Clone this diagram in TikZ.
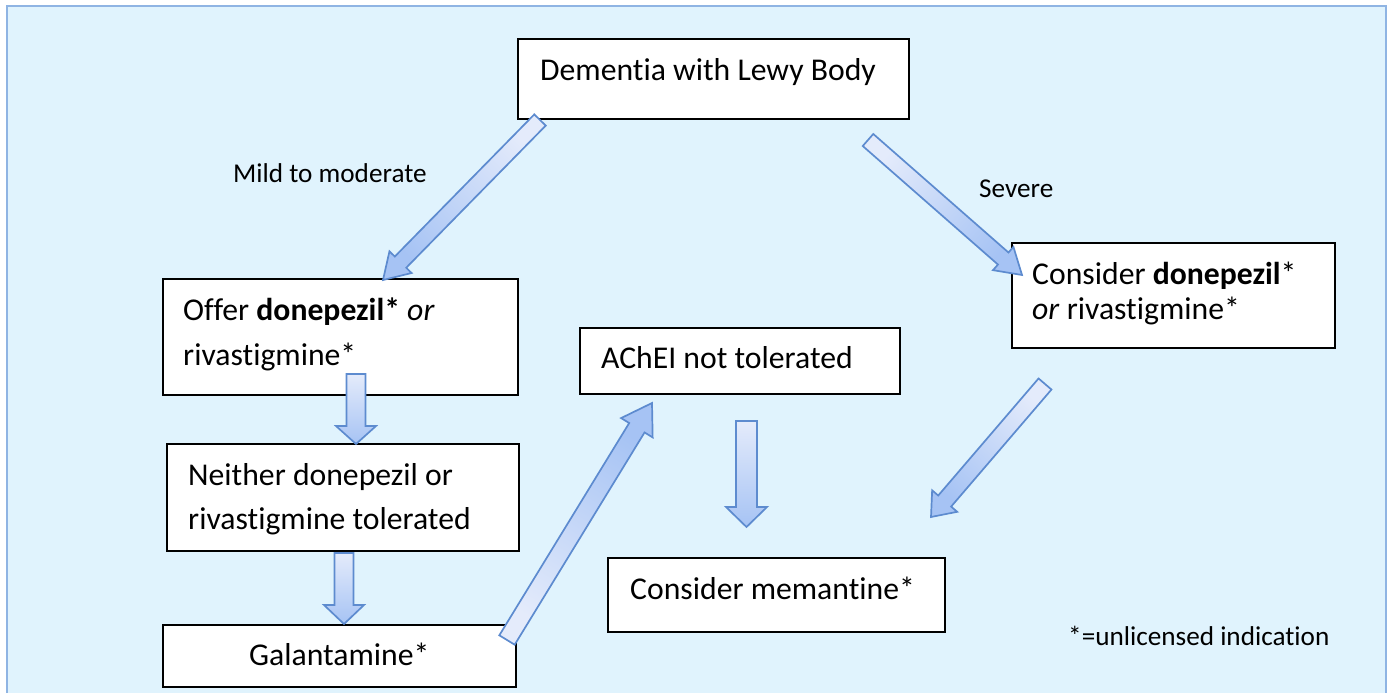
\documentclass[tikz,border=0pt]{standalone}
\usepackage{fontspec}
\setmainfont{Carlito}[Ligatures=NoCommon]
\usetikzlibrary{calc}
\definecolor{bg}{HTML}{E0F3FD}
\definecolor{frame}{HTML}{8FB4E3}
\definecolor{arrowtop}{HTML}{E4EBFB}
\definecolor{arrowbot}{HTML}{A6C3F4}
\definecolor{arrowedge}{HTML}{5D8BCF}
\newcommand\blockarrow[6]{%
  \coordinate (ba-h) at ($(#2)!#5!(#1)$);
  \fill[black,opacity=0.10,xshift=2pt,yshift=-2pt]
    ($(#1)!#3!90:(#2)$) -- ($(ba-h)!#3!90:(#2)$) -- ($(ba-h)!#4!90:(#2)$) -- (#2) --
    ($(ba-h)!#4!-90:(#2)$) -- ($(ba-h)!#3!-90:(#2)$) -- ($(#1)!#3!-90:(#2)$) -- cycle;
  \draw[barrow, top color=arrowtop, bottom color=arrowbot, shading angle=#6]
    ($(#1)!#3!90:(#2)$) -- ($(ba-h)!#3!90:(#2)$) -- ($(ba-h)!#4!90:(#2)$) -- (#2) --
    ($(ba-h)!#4!-90:(#2)$) -- ($(ba-h)!#3!-90:(#2)$) -- ($(#1)!#3!-90:(#2)$) -- cycle;
}
\begin{document}
\begin{tikzpicture}[x=1pt,y=-1pt,
  box/.style={draw=black,line width=1.6pt,fill=white,anchor=north west,inner sep=0pt,outer sep=0pt},
  txt/.style={anchor=base west,inner sep=0pt,font=\fontsize{31.7}{38}\selectfont},
  lbl/.style={anchor=base west,inner sep=0pt,font=\fontsize{27.2}{33}\selectfont},
  barrow/.style={draw=arrowedge,line width=1.7pt,line join=miter}]
\useasboundingbox (0,0) rectangle (1391,693);
\fill[white] (0,0) rectangle (1391,693);
\fill[bg] (7,6) rectangle (1386,693);
\draw[frame,line width=2.5pt] (7,693) -- (7,6) -- (1386,6) -- (1386,693);

% boxes
\node[box,minimum width=391pt,minimum height=80pt] (dem) at (518,39) {};
\node[box,minimum width=355pt,minimum height=116pt] (offer) at (163,279) {};
\node[box,minimum width=352pt,minimum height=107pt] (neither) at (167,444) {};
\node[box,minimum width=353pt,minimum height=62pt] (galan) at (163,625) {};
\node[box,minimum width=320pt,minimum height=66pt] (ache) at (580,328) {};
\node[box,minimum width=337pt,minimum height=74pt] (mem) at (608,558) {};
\node[box,minimum width=323pt,minimum height=105pt] (cons) at (1012,243) {};

% texts
\node[txt] (t-dem) at (540,80) {Dementia with Lewy Body};
\node[txt] (t-off1) at (183,320) {Offer \textbf{donepezil*} \textit{or}};
\node[txt] (t-off2) at (183,365) {rivastigmine*};
\node[txt] (t-nei1) at (188,485) {Neither donepezil or};
\node[txt] (t-nei2) at (188,529) {rivastigmine tolerated};
\node[txt] (t-gal) at (249,665) {Galantamine*};
\node[txt] (t-ach) at (601,368) {AChEI not tolerated};
\node[txt] (t-con1) at (1032,284) {Consider \textbf{donepezil}*};
\node[txt] (t-con2) at (1032,319) {\textit{or} rivastigmine*};
\node[txt] (t-mem) at (630,599) {Consider memantine*};
\node[lbl] (l-mild) at (233,182) {Mild to moderate};
\node[lbl] (l-sev) at (979,197) {Severe};
\node[lbl] (l-unl) at (1068,645) {*=unlicensed indication};

% arrow end points
\coordinate (a1s) at (540,120);  \coordinate (a1e) at (383,280);
\coordinate (a2s) at (868,140);  \coordinate (a2e) at (1022,275);
\coordinate (a3s) at (356,374);  \coordinate (a3e) at (356,444);
\coordinate (a4s) at (344,553);  \coordinate (a4e) at (344,624);
\coordinate (a5s) at (507,640);  \coordinate (a5e) at (652,403);
\coordinate (a6s) at (746.5,421); \coordinate (a6e) at (746.5,527);
\coordinate (a7s) at (1045,384); \coordinate (a7e) at (931,517);

\blockarrow{a1s}{a1e}{8pt}{15.5pt}{25pt}{-44.5}
\blockarrow{a2s}{a2e}{8pt}{15.5pt}{25pt}{48.8}
\blockarrow{a3s}{a3e}{9.5pt}{20pt}{18pt}{0}
\blockarrow{a4s}{a4e}{9.5pt}{20pt}{19pt}{0}
\blockarrow{a5s}{a5e}{9pt}{18.5pt}{29pt}{148.5}
\blockarrow{a6s}{a6e}{10.5pt}{20.5pt}{20pt}{0}
\blockarrow{a7s}{a7e}{8.5pt}{16.5pt}{21pt}{-40.6}
\end{tikzpicture}
\end{document}
